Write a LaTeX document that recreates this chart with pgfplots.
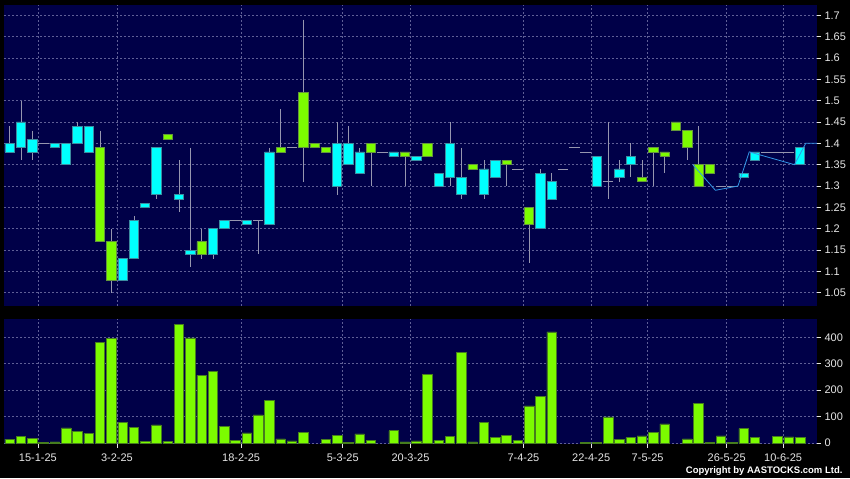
\documentclass[border=0pt]{standalone}
\usepackage{pgfplots}
\usepackage{pgfplotstable}
\pgfplotsset{compat=1.18}
\usepackage{fontspec}
\setmainfont{Liberation Sans}
\definecolor{navy}{RGB}{0,0,72}
\definecolor{gridc}{RGB}{95,95,150}
\definecolor{wickc}{RGB}{150,150,175}
\definecolor{cyanf}{RGB}{0,255,255}
\definecolor{cyano}{RGB}{60,140,160}
\definecolor{greenf}{RGB}{124,252,0}
\definecolor{greeno}{RGB}{100,150,60}
\definecolor{volo}{RGB}{70,125,30}
\definecolor{lineblue}{RGB}{50,150,230}
\definecolor{labc}{RGB}{230,230,230}

\pgfplotstableread{
i blo bhi
0 1.38 1.40
1 1.39 1.45
2 1.38 1.41
4 1.39 1.40
5 1.35 1.40
6 1.40 1.44
7 1.38 1.44
10 1.08 1.13
11 1.13 1.22
12 1.25 1.26
13 1.28 1.39
15 1.27 1.28
16 1.14 1.15
18 1.14 1.20
19 1.20 1.22
21 1.21 1.22
23 1.21 1.38
29 1.30 1.40
30 1.35 1.40
31 1.33 1.38
34 1.37 1.38
36 1.36 1.37
38 1.30 1.33
39 1.32 1.40
40 1.28 1.32
42 1.28 1.34
43 1.32 1.36
47 1.20 1.33
48 1.27 1.31
52 1.30 1.37
54 1.32 1.34
55 1.35 1.37
65 1.32 1.33
66 1.36 1.38
70 1.35 1.39
}\cyanb

\pgfplotstableread{
i blo bhi
8 1.17 1.39
9 1.08 1.17
14 1.41 1.42
17 1.14 1.17
24 1.38 1.39
26 1.39 1.52
27 1.39 1.40
28 1.38 1.39
32 1.38 1.40
35 1.37 1.38
37 1.37 1.40
41 1.34 1.35
44 1.35 1.36
46 1.21 1.25
56 1.31 1.32
57 1.38 1.39
58 1.37 1.38
59 1.43 1.45
60 1.39 1.43
61 1.30 1.35
62 1.33 1.35
}\greenb

\pgfplotstableread{
i p
3 1.40
20 1.22
22 1.22
25 1.39
33 1.38
45 1.34
49 1.34
50 1.39
51 1.38
53 1.31
63 1.30
64 1.30
67 1.38
68 1.38
69 1.38
}\flats

\pgfplotstableread{
i wlo whi
0 1.38 1.44
1 1.36 1.50
2 1.36 1.43
6 1.40 1.45
8 1.17 1.43
9 1.05 1.20
11 1.13 1.23
13 1.27 1.39
15 1.24 1.36
16 1.11 1.39
17 1.13 1.20
18 1.13 1.20
22 1.14 1.22
23 1.21 1.39
24 1.38 1.48
26 1.31 1.69
29 1.28 1.45
30 1.35 1.44
31 1.33 1.39
32 1.30 1.40
35 1.30 1.38
39 1.30 1.45
40 1.27 1.39
42 1.27 1.36
44 1.30 1.36
46 1.12 1.25
47 1.20 1.34
48 1.27 1.33
53 1.27 1.45
54 1.31 1.36
55 1.32 1.40
56 1.31 1.36
57 1.30 1.39
58 1.33 1.38
60 1.36 1.43
61 1.30 1.44
}\wicks

\pgfplotstableread{
i v
0 14
1 24
2 16
3 3
4 4
5 57
6 44
7 35
8 382
9 396
10 77
11 58
12 5
13 68
14 5
15 448
16 398
17 256
18 271
19 63
20 11
21 38
22 106
23 162
24 15
25 8
26 39
28 14
29 28
30 3
31 34
32 10
34 46
35 4
36 8
37 260
38 9
39 25
40 342
41 4
42 78
43 22
44 29
45 10
46 140
47 176
48 421
51 3
52 2
53 99
54 13
55 20
56 27
57 41
58 72
60 15
61 149
62 2
63 27
64 2
65 54
66 20
68 25
69 23
70 20
}\vol

\pgfplotsset{
  pricebase/.style={scale only axis, width=813pt, height=301pt,
    at={(4pt,172pt)}, anchor=south west,
    xmin=-0.5, xmax=71.5, ymin=1.019, ymax=1.724},
  gridstyle/.style={grid=major,
    major grid style={draw=gridc, dash pattern=on 2pt off 2pt, line width=0.6pt},
    axis line style={draw=none},
    tick align=outside, major tick length=4pt,
    tick style={draw=labc, line width=0.6pt},
    /pgf/number format/assume math mode=true,
    ticklabel style={font=\fontsize{11}{13}\selectfont, text=labc}},
}

\begin{document}
\begin{tikzpicture}[x=1pt,y=1pt]
\fill[black] (0,0) rectangle (850,478);

% price panel: background, grid, wicks, flat candles
\begin{axis}[pricebase, gridstyle,
  axis background/.style={fill=navy},
  xtick={2.5,9.5,20.5,29.5,35.5,45.5,51.5,56.5,63.5,68.5}, xticklabels={},
  xtick style={draw=none},
  ytick={1.05,1.1,1.15,1.2,1.25,1.3,1.35,1.4,1.45,1.5,1.55,1.6,1.65,1.7},
  ytick pos=right, yticklabel pos=right]
\addplot[draw=none, forget plot, error bars/.cd, y dir=minus, y explicit,
  error mark=none, error bar style={draw=wickc, line width=0.7pt}]
  table[x=i, y=whi, y error minus expr=\thisrow{whi}-\thisrow{wlo}] {\wicks};
\addplot[draw=none, forget plot, error bars/.cd, x dir=both, x fixed=0.47,
  error mark=none, error bar style={draw=wickc, line width=0.7pt}]
  table[x=i, y=p] {\flats};
\end{axis}

% cyan bodies
\begin{axis}[pricebase, hide axis, ybar stacked, bar width=9.3pt]
\addplot[draw=none, fill=none] table[x=i, y=blo] {\cyanb};
\addplot[fill=cyanf, draw=cyano, line width=0.6pt]
  table[x=i, y expr=\thisrow{bhi}-\thisrow{blo}] {\cyanb};
\end{axis}

% green bodies
\begin{axis}[pricebase, hide axis, ybar stacked, bar width=9.3pt]
\addplot[draw=none, fill=none] table[x=i, y=blo] {\greenb};
\addplot[fill=greenf, draw=greeno, line width=0.6pt]
  table[x=i, y expr=\thisrow{bhi}-\thisrow{blo}] {\greenb};
\end{axis}

% overlay line
\begin{axis}[pricebase, hide axis]
\addplot[lineblue, line width=0.8pt] coordinates {
(60.5,1.35) (62.5,1.29) (64.5,1.30) (65.5,1.38) (69.5,1.35) (70.5,1.40) (71.5,1.40)};
\end{axis}

% volume panel
\begin{axis}[scale only axis, width=813pt, height=125pt,
  at={(4pt,34pt)}, anchor=south west,
  xmin=-0.5, xmax=71.5, ymin=-4, ymax=469.5, gridstyle,
  axis background/.style={fill=navy},
  ybar, bar width=9.5pt,
  xtick={2.5,9.5,20.5,29.5,35.5,45.5,51.5,56.5,63.5,68.5},
  xticklabels={15-1-25,3-2-25,18-2-25,5-3-25,20-3-25,7-4-25,22-4-25,7-5-25,26-5-25,10-6-25},
  xticklabel style={yshift=-2pt},
  xtick pos=bottom,
  ytick={0,100,200,300,400},
  ytick pos=right, yticklabel pos=right]
\addplot[fill=greenf, draw=volo, line width=0.6pt] table[x=i, y=v] {\vol};
\end{axis}

\node[anchor=east, font=\bfseries\fontsize{9.5}{11}\selectfont, text=white] at (846,7) {Copyright by AASTOCKS.com Ltd.};
\end{tikzpicture}
\end{document}
